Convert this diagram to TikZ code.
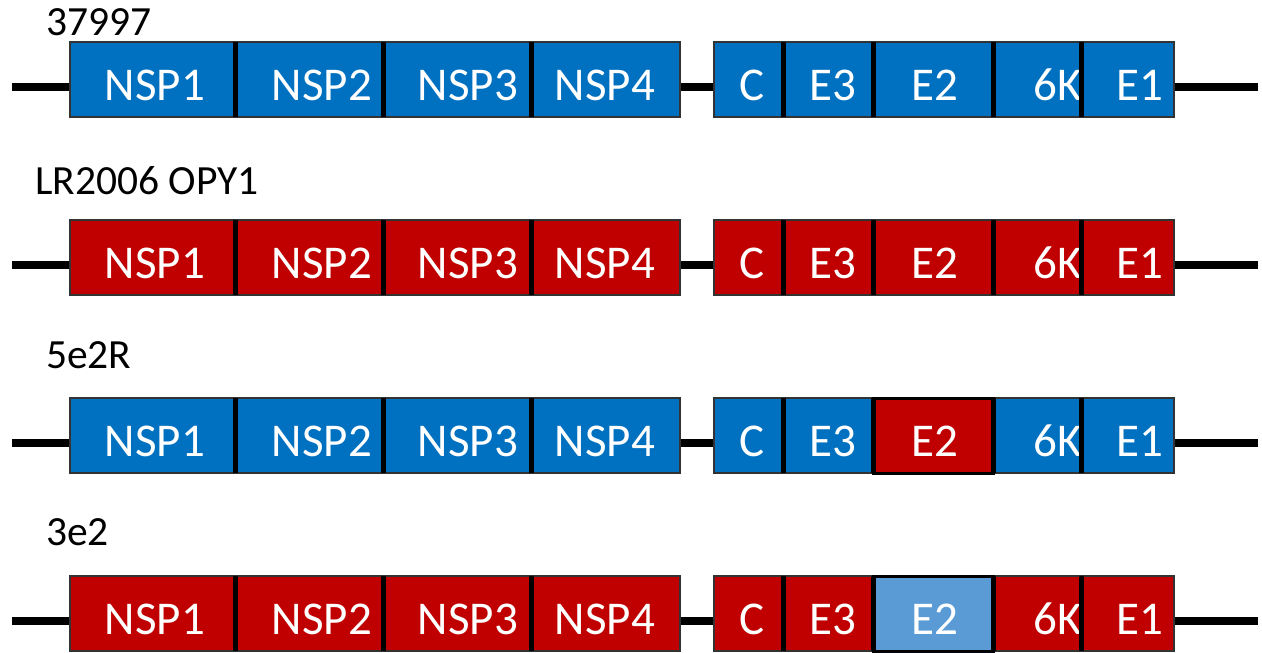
\documentclass[tikz,border=0pt]{standalone}
\usepackage{fontspec}
\setmainfont{Carlito}
\usetikzlibrary{calc}
\definecolor{vblue}{HTML}{0070C0}
\definecolor{vred}{HTML}{C00000}
\definecolor{vlight}{HTML}{5B9BD5}

\begin{document}
\begin{tikzpicture}[x=1pt,y=-1pt,
    genome/.style={line width=7.5pt},
    seg/.style={draw=black!80,line width=1.5pt,inner sep=0pt,outer sep=0pt,
      minimum height=75pt},
    cut/.style={line width=5pt},
    gene/.style={text=white,anchor=base,font=\fontsize{47}{47}\selectfont},
    strain/.style={anchor=base west,inner sep=0pt,font=\fontsize{41.5}{41.5}\selectfont}]
  \useasboundingbox (0,0) rectangle (1262,653);
  \foreach \r/\t/\lab/\lx/\ly/\col/\etwo in {1/42/37997/46/35/vblue/vblue,
      2/220/LR2006 OPY1/35/194/vred/vred, 3/398/5e2R/46/368/vblue/vred,
      4/576/3e2/46/545/vred/vlight}{
    \node[strain] (lab\r) at (\lx,\ly) {\lab};
    \coordinate (a\r) at (12,\t+45);
    \coordinate (b\r) at (1258,\t+45);
    \draw[genome] (a\r) -- (b\r);
    % segments, each one covers what sticks out of the one before
    \foreach \i/\xa/\xb/\tx/\g in {1/70/235/155/NSP1, 2/235/383/322/NSP2,
        3/383/531/468/NSP3, 4/531/680/605/NSP4, 5/714/783/752/C,
        6/783/873/833/E3, 7/873/993/935/E2, 8/993/1081/1058/6K,
        9/1081/1174/1140/E1}{
      \ifnum\i=7 \def\fc{\etwo}\else\def\fc{\col}\fi
      \node[seg,fill=\fc,minimum width={(\xb-\xa)*1pt}]
        (s\r-\i) at ({(\xa+\xb)/2},\t+37.5) {};
      \node[gene] (g\r-\i) at (\tx,\t+58) {\g};
    }
    \foreach \i in {1,2,3,5,6,7,8}
      \draw[cut] (s\r-\i.north east) -- (s\r-\i.south east);
  }
  % swapped E2 gets a full frame
  \foreach \r in {3,4}
    \draw[line width=3pt] (s\r-7.north west) rectangle (s\r-7.south east);
\end{tikzpicture}
\end{document}
